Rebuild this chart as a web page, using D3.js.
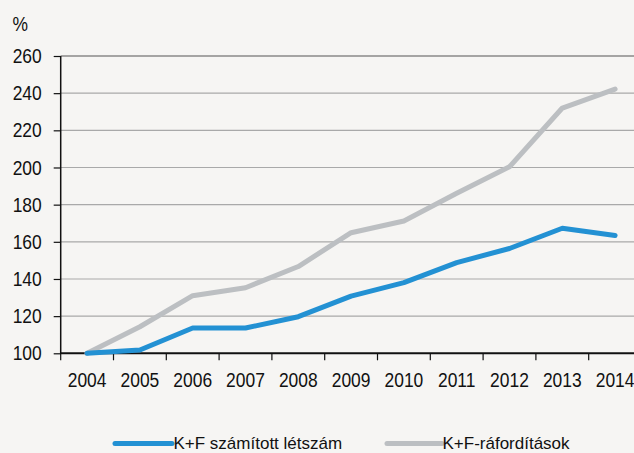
<!DOCTYPE html>
<html><head><meta charset="utf-8">
<script src="https://cdn.jsdelivr.net/npm/d3@7"></script>
<style>
html,body{margin:0;padding:0;background:#f6f5f3;}
svg{display:block;}
text{font-family:"Liberation Sans",Arial,sans-serif;fill:#111;}
</style></head>
<body><svg id="c" width="634" height="453"></svg>
<script>
const years = ["2004","2005","2006","2007","2008","2009","2010","2011","2012","2013","2014"];
const staff = [100, 101.8, 113.6, 113.6, 119.7, 130.8, 138.0, 148.8, 156.4, 167.3, 163.4];
const spending = [100, 114.3, 131.0, 135.3, 146.7, 164.9, 171.2, 186.1, 200.4, 232.0, 242.2];
const yTicks = [100,120,140,160,180,200,220,240,260];
const seriesNames = ["K+F számított létszám","K+F-ráfordítások"];
const colors = ["#2391d3","#bcbfc2"];

const svg = d3.select("#c");
const x = d3.scaleBand().domain(years).range([60.7, 641.5]).padding(0);
const y = d3.scaleLinear().domain([100,260]).range([353.3, 56]);
const fs = 20.5, sx = 0.85;

// grid
svg.append("g").selectAll("line").data(yTicks.filter(t=>t>100)).join("line")
  .attr("x1",60.7).attr("x2",634).attr("y1",d=>y(d)).attr("y2",d=>y(d))
  .attr("stroke",d=>d===260?"#555":"#a9a9a9").attr("stroke-width",1.2);

// y axis
const ya = svg.append("g").attr("transform","translate(60.7,0)")
  .call(d3.axisLeft(y).tickValues(yTicks).tickSize(7).tickPadding(12).tickFormat(d3.format("d")));
ya.select(".domain").attr("stroke","#111").attr("stroke-width",1.5).attr("d",`M0,${y(260)}V${y(100)}`);
ya.selectAll(".tick line").attr("stroke","#111").attr("stroke-width",1.2);
ya.selectAll("text").attr("font-size",fs).attr("font-family",null).attr("fill","#111")
  .attr("x",-19/sx).attr("transform",`scale(${sx},1)`);

// x axis
const xa = svg.append("g").attr("transform",`translate(0,${y(100)})`)
  .call(d3.axisBottom(x).tickSize(0).tickPadding(19.6));
xa.select(".domain").remove();
xa.selectAll("text").attr("font-size",fs).attr("font-family",null).attr("fill","#111")
  .attr("transform",`scale(${sx},1)`);
svg.append("line").attr("x1",60).attr("x2",634).attr("y1",y(100)).attr("y2",y(100)).attr("stroke","#111").attr("stroke-width",2);
svg.append("g").selectAll("line").data(years).join("line")
  .attr("x1",d=>x(d)).attr("x2",d=>x(d)).attr("y1",y(100)).attr("y2",y(100)+7)
  .attr("stroke","#111").attr("stroke-width",1.2);

// lines
const line = d3.line().x((d,i)=>x(years[i])+x.bandwidth()/2).y(d=>y(d));
[spending, staff].forEach((s,k)=>{
  svg.append("path").datum(s).attr("d",line).attr("fill","none")
    .attr("stroke", k===0?colors[1]:colors[0]).attr("stroke-width",5)
    .attr("stroke-linejoin","round").attr("stroke-linecap","round");
});

// % label
svg.append("text").attr("transform",`translate(12.5,30.7) scale(${sx},1)`).attr("font-size",fs).text("%");

// legend
const leg = [{x1:115,x2:172,tx:173.5},{x1:387,x2:442,tx:442.5}];
leg.forEach((l,i)=>{
  svg.append("line").attr("x1",l.x1).attr("x2",l.x2).attr("y1",443.4).attr("y2",443.4)
    .attr("stroke",colors[i]).attr("stroke-width",5).attr("stroke-linecap","round");
  svg.append("text").attr("x",l.tx).attr("y",448.8).attr("font-size",17).text(seriesNames[i]);
});
</script></body></html>
